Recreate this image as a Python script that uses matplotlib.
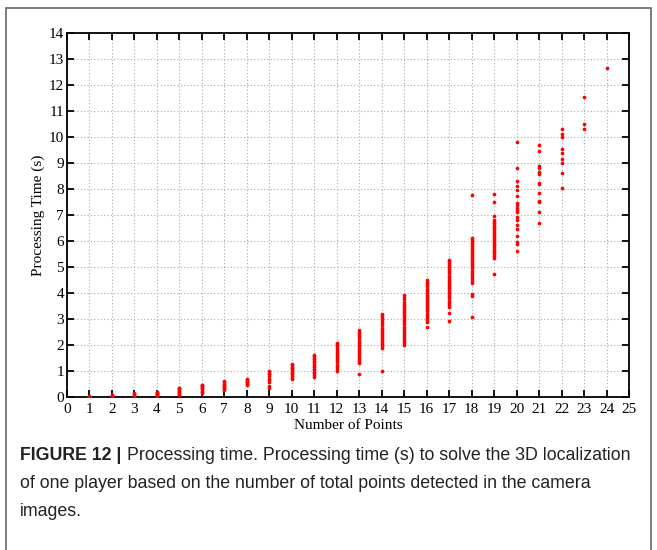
import matplotlib
matplotlib.use("Agg")
import matplotlib.pyplot as plt
from matplotlib.patches import Rectangle

# ---------------- data ----------------
n_points = list(range(1, 25))

t01 = [0.01, 0.02, 0.03, 0.04, 0.05]
t02 = [0.02, 0.04, 0.06, 0.08, 0.10]
t03 = [0.03, 0.06, 0.09, 0.12, 0.15]
t04 = [0.05, 0.08, 0.11, 0.14, 0.17, 0.20, 0.22]
t05 = [0.10, 0.14, 0.18, 0.22, 0.26, 0.30, 0.34, 0.37]
t06 = [0.18, 0.22, 0.26, 0.30, 0.34, 0.38, 0.42, 0.46, 0.48]
t07 = [0.29, 0.33, 0.37, 0.41, 0.45, 0.49, 0.53, 0.57, 0.61]
t08 = [0.48, 0.52, 0.56, 0.60, 0.64, 0.68, 0.72]
t09 = [0.36, 0.45, 0.58, 0.65, 0.72, 0.82, 0.88, 0.95, 1.02]
t10 = [0.70, 0.76, 0.82, 0.88, 0.93, 0.98, 1.03, 1.08, 1.13, 1.18, 1.23, 1.28]
t11 = [0.79, 0.86, 0.92, 0.98, 1.04, 1.10, 1.16, 1.22, 1.28, 1.34, 1.40,
       1.46, 1.52, 1.58, 1.62]
t12 = [1.01, 1.10, 1.18, 1.26, 1.34, 1.42, 1.50, 1.58, 1.66, 1.74, 1.82,
       1.90, 1.98, 2.04, 2.08]
t13 = [0.88, 1.30, 1.38, 1.46, 1.54, 1.62, 1.70, 1.78, 1.86, 1.94, 2.02,
       2.10, 2.18, 2.26, 2.34, 2.42, 2.50, 2.58]
t14 = [1.01, 1.88, 1.96, 2.04, 2.12, 2.20, 2.28, 2.36, 2.44, 2.52, 2.60,
       2.68, 2.76, 2.84, 2.92, 3.00, 3.08, 3.16, 3.20]
t15 = [2.01, 2.08, 2.16, 2.24, 2.32, 2.40, 2.48, 2.56, 2.64, 2.72, 2.80,
       2.88, 2.96, 3.04, 3.12, 3.20, 3.28, 3.36, 3.44, 3.52, 3.60, 3.68,
       3.76, 3.84, 3.93]
t16 = [2.69, 2.91, 2.98, 3.06, 3.14, 3.22, 3.30, 3.38, 3.46, 3.54, 3.62,
       3.70, 3.78, 3.86, 3.94, 4.02, 4.10, 4.18, 4.26, 4.34, 4.42, 4.51]
t17 = [2.93, 3.25, 3.48, 3.56, 3.64, 3.72, 3.80, 3.88, 3.96, 4.04, 4.12,
       4.20, 4.28, 4.36, 4.44, 4.52, 4.60, 4.68, 4.76, 4.84, 4.92, 5.00,
       5.08, 5.16, 5.22, 5.28]
t18 = [3.08, 3.90, 3.97, 4.39, 4.47, 4.55, 4.63, 4.71, 4.79, 4.87, 4.95,
       5.03, 5.11, 5.19, 5.27, 5.35, 5.43, 5.51, 5.59, 5.67, 5.75, 5.83,
       5.91, 5.97, 6.05, 6.12, 7.77]
t19 = [4.72, 5.37, 5.44, 5.50, 5.58, 5.63, 5.70, 5.76, 5.84, 5.91, 5.98,
       6.04, 6.12, 6.19, 6.28, 6.36, 6.44, 6.49, 6.56, 6.62, 6.68, 6.74,
       6.83, 6.96, 7.49, 7.83]
t20 = [5.63, 5.91, 5.97, 6.19, 6.46, 6.62, 6.81, 6.93, 7.13, 7.19, 7.28,
       7.38, 7.47, 7.74, 7.96, 8.12, 8.32, 8.80, 9.82]
t21 = [6.69, 7.12, 7.49, 7.56, 7.85, 8.19, 8.25, 8.59, 8.64, 8.83, 8.90,
       9.48, 9.70]
t22 = [8.04, 8.62, 9.00, 9.15, 9.38, 9.54, 10.02, 10.12, 10.32]
t23 = [10.30, 10.50, 11.54]
t24 = [12.66]

times = [t01, t02, t03, t04, t05, t06, t07, t08, t09, t10, t11, t12,
         t13, t14, t15, t16, t17, t18, t19, t20, t21, t22, t23, t24]

x_ticks = list(range(0, 26))
y_ticks = list(range(0, 15))

xlabel = "Number of Points"
ylabel = "Processing Time (s)"
caption_bold = "FIGURE 12 |"
caption_l1 = "Processing time. Processing time (s) to solve the 3D localization"
caption_l2 = "of one player based on the number of total points detected in the camera"
caption_l3 = "images."

# ---------------- figure ----------------
W, H = 657, 550
fig = plt.figure(figsize=(W / 100, H / 100), dpi=100)
fig.patch.set_facecolor("white")

# outer border of the figure panel
fig.patches.append(Rectangle((6 / W, -0.05), 645 / W, 1 - 8 / H + 0.05,
                             transform=fig.transFigure, fill=False,
                             edgecolor="#666666", linewidth=1.2))

ax = fig.add_axes([66.7 / W, 1 - 397.3 / H, (629.3 - 66.7) / W, (397.3 - 33) / H])

xs, ys = [], []
for n, vals in zip(n_points, times):
    for v in vals:
        xs.append(n)
        ys.append(v)
ax.scatter(xs, ys, s=7, c="red", marker="o", linewidths=0, zorder=3)

ax.set_xlim(0, 25)
ax.set_ylim(0, 14)
ax.set_xticks(x_ticks)
ax.set_yticks(y_ticks)
serif = ["Liberation Serif", "DejaVu Serif"]
ax.set_xticklabels([str(t) for t in x_ticks], family=serif, fontsize=11)
ax.set_yticklabels([str(t) for t in y_ticks], family=serif, fontsize=11)
ax.tick_params(direction="in", length=5, width=1.3, top=True, right=True,
               colors="black")
ax.tick_params(axis="x", pad=4)
ax.tick_params(axis="y", pad=2)
ax.grid(True, linestyle=(0, (1, 2)), color="#aaaaaa", linewidth=0.8)
ax.set_axisbelow(True)
for sp in ax.spines.values():
    sp.set_linewidth(1.3)

ax.set_xlabel(xlabel, family=serif, fontsize=11, labelpad=2)
ax.set_ylabel(ylabel, family=serif, fontsize=11, labelpad=3)

# caption
sans = ["Liberation Sans", "DejaVu Sans"]
cfs = 12.8
fig.canvas.draw()
r = fig.canvas.get_renderer()
tb = fig.text(20 / W, 1 - 455 / H, caption_bold, family=sans, weight="bold",
              fontsize=cfs, va="center", ha="left", color="#222222")
bb = tb.get_window_extent(renderer=r)
fig.text((bb.x1 + 6) / W, 1 - 455 / H, caption_l1, family=sans, fontsize=cfs,
         va="center", ha="left", color="#222222")
fig.text(20 / W, 1 - 483.5 / H, caption_l2, family=sans, fontsize=cfs,
         va="center", ha="left", color="#222222")
fig.text(20 / W, 1 - 512 / H, caption_l3, family=sans, fontsize=cfs,
         va="center", ha="left", color="#222222")

fig.savefig("out.png", dpi=100)
